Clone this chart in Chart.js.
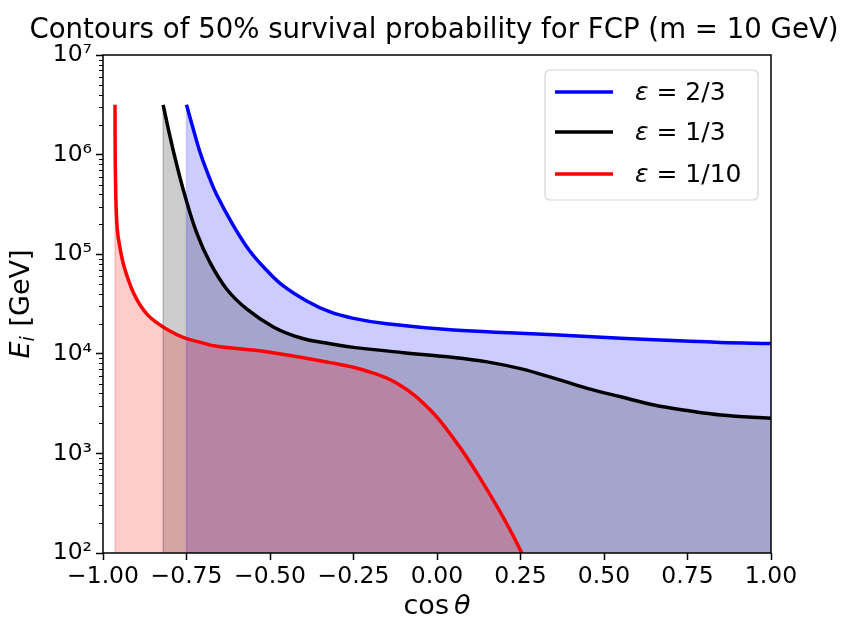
<!DOCTYPE html>
<html>
<head>
<meta charset="utf-8">
<script src="https://cdn.jsdelivr.net/npm/chart.js@4.4.0/dist/chart.umd.min.js"></script>
<style>
  html, body { margin: 0; padding: 0; background: #fff; }
</style>
</head>
<body>
<canvas id="chart" width="849" height="619"></canvas>
<script>
// curvas de 50% de sobrevivencia
const blueX = [-0.75, -0.73, -0.71, -0.685, -0.66, -0.61, -0.56, -0.51, -0.46, -0.39, -0.32, -0.25, -0.15, 0.05, 0.25, 0.45, 0.65, 0.85, 1.0];
const blueY = [3.16e6, 1.82e6, 1.07e6, 6.3e5, 3.98e5, 1.95e5, 1.07e5, 6.9e4, 4.8e4, 3.39e4, 2.63e4, 2.27e4, 2.0e4, 1.73e4, 1.61e4, 1.49e4, 1.38e4, 1.30e4, 1.27e4];

const blackX = [-0.82, -0.80, -0.78, -0.755, -0.72, -0.68, -0.63, -0.57, -0.49, -0.41, -0.32, -0.25, -0.10, 0.05, 0.15, 0.25, 0.35, 0.45, 0.55, 0.65, 0.75, 0.85, 1.0];
const blackY = [3.16e6, 1.55e6, 8.1e5, 3.9e5, 1.66e5, 8.3e4, 4.47e4, 2.82e4, 1.86e4, 1.45e4, 1.26e4, 1.16e4, 1.026e4, 9.2e3, 8.3e3, 7.1e3, 5.7e3, 4.5e3, 3.7e3, 3.06e3, 2.69e3, 2.43e3, 2.25e3];

const redX = [-0.964, -0.9635, -0.961, -0.957, -0.949, -0.939, -0.925, -0.91, -0.889, -0.865, -0.838, -0.805, -0.76, -0.71, -0.659, -0.51, -0.32, -0.22, -0.12, -0.02, 0.06, 0.12, 0.18, 0.224, 0.254];
const redY = [3.16e6, 1.0e6, 3.27e5, 1.75e5, 1.15e5, 7.98e4, 5.64e4, 4.17e4, 3.09e4, 2.43e4, 2.04e4, 1.73e4, 1.46e4, 1.31e4, 1.19e4, 1.05e4, 8.15e3, 6.87e3, 5.06e3, 2.73e3, 1.26e3, 631, 292, 158, 100];

const labels = ['ε = 2/3', 'ε = 1/3', 'ε = 1/10'];
const xTicks = [-1, -0.75, -0.5, -0.25, 0, 0.25, 0.5, 0.75, 1];
const yTicks = [1e2, 1e3, 1e4, 1e5, 1e6, 1e7];
const title = 'Contours of 50% survival probability for FCP (m = 10 GeV)';

const FONT = "'DejaVu Sans'";
const sup = '⁰¹²³⁴⁵⁶⁷⁸⁹';

function pts(xs, ys) {
  return xs.map((x, i) => ({ x: x, y: ys[i] }));
}

// borda esquerda das areas preenchidas (como no fill_between)
const edges = {
  id: 'edges',
  afterDatasetsDraw(chart) {
    const { ctx, chartArea: a, scales } = chart;
    ctx.save();
    chart.data.datasets.forEach((ds) => {
      const px = scales.x.getPixelForValue(ds.data[0].x);
      const py = scales.y.getPixelForValue(ds.data[0].y);
      ctx.strokeStyle = ds.backgroundColor;
      ctx.lineWidth = 1.5;
      ctx.beginPath();
      ctx.moveTo(px, py);
      ctx.lineTo(px, a.bottom);
      ctx.stroke();
    });
    ctx.restore();
  }
};

// eixos, titulo, legenda e titulos dos eixos desenhados à mao
const decor = {
  id: 'decor',
  afterDraw(chart) {
    const { ctx, chartArea: a, scales } = chart;
    const y = scales.y;
    ctx.save();

    // ticks menores do eixo log
    ctx.strokeStyle = '#000';
    ctx.lineWidth = 1;
    for (let e = 2; e < 7; e++) {
      for (let k = 2; k <= 9; k++) {
        const py = Math.round(y.getPixelForValue(k * Math.pow(10, e))) + 0.5;
        ctx.beginPath();
        ctx.moveTo(a.left - 4, py);
        ctx.lineTo(a.left, py);
        ctx.stroke();
      }
    }

    // moldura
    ctx.lineWidth = 1.5;
    ctx.strokeRect(a.left, a.top, a.right - a.left, a.bottom - a.top);

    // titulo
    ctx.fillStyle = '#000';
    ctx.textBaseline = 'alphabetic';
    ctx.textAlign = 'center';
    ctx.font = '27.6px ' + FONT;
    ctx.fillText(title, (a.left + a.right) / 2 - 3, 38);
    ctx.textAlign = 'left';

    // titulo do eixo x: cos θ
    const f1 = '27px ' + FONT;
    const f1i = 'italic 27px ' + FONT;
    ctx.font = f1;
    const wCos = ctx.measureText('cos').width;
    const gap = 5;
    ctx.font = f1i;
    const wTh = ctx.measureText('θ').width;
    let x0 = (a.left + a.right) / 2 - (wCos + gap + wTh) / 2;
    ctx.font = f1;
    ctx.fillText('cos', x0, 614);
    ctx.font = f1i;
    ctx.fillText('θ', x0 + wCos + gap, 614);

    // titulo do eixo y: E_i [GeV]
    ctx.save();
    ctx.translate(29, (a.top + a.bottom) / 2);
    ctx.rotate(-Math.PI / 2);
    ctx.font = f1i;
    const wE = ctx.measureText('E').width;
    ctx.font = 'italic 19px ' + FONT;
    const wI = ctx.measureText('i').width;
    ctx.font = f1;
    const wG = ctx.measureText(' [GeV]').width;
    x0 = -(wE + wI + 1 + wG) / 2;
    ctx.font = f1i;
    ctx.fillText('E', x0, 0);
    ctx.font = 'italic 19px ' + FONT;
    ctx.fillText('i', x0 + wE, 5);
    ctx.font = f1;
    ctx.fillText(' [GeV]', x0 + wE + wI + 1, 0);
    ctx.restore();

    // legenda
    const lx = 545, ly = 70, lw = 213, lh = 130;
    ctx.beginPath();
    ctx.roundRect(lx, ly, lw, lh, 5);
    ctx.fillStyle = 'rgba(255,255,255,0.8)';
    ctx.fill();
    ctx.strokeStyle = '#d4d4d4';
    ctx.lineWidth = 1.2;
    ctx.stroke();
    const rows = [92, 132, 174];
    chart.data.datasets.forEach((ds, i) => {
      ctx.strokeStyle = ds.borderColor;
      ctx.lineWidth = 3.5;
      ctx.beginPath();
      ctx.moveTo(555, rows[i]);
      ctx.lineTo(613, rows[i]);
      ctx.stroke();
      ctx.fillStyle = '#000';
      ctx.textBaseline = 'middle';
      ctx.font = 'italic 25px ' + FONT;
      const eps = ds.label.charAt(0);
      ctx.fillText(eps, 635, rows[i] + 1);
      const we = ctx.measureText(eps).width;
      ctx.font = '25px ' + FONT;
      ctx.fillText(ds.label.slice(1), 635 + we, rows[i] + 1);
    });

    ctx.restore();
  }
};

const ctx = document.getElementById('chart');

new Chart(ctx, {
  type: 'line',
  data: {
    datasets: [
      {
        label: labels[0],
        data: pts(blueX, blueY),
        borderColor: 'rgb(0,0,255)',
        backgroundColor: 'rgba(0,0,255,0.2)',
        fill: 'start',
        order: 3
      },
      {
        label: labels[1],
        data: pts(blackX, blackY),
        borderColor: 'rgb(0,0,0)',
        backgroundColor: 'rgba(0,0,0,0.2)',
        fill: 'start',
        order: 2
      },
      {
        label: labels[2],
        data: pts(redX, redY),
        borderColor: 'rgb(255,0,0)',
        backgroundColor: 'rgba(255,0,0,0.2)',
        fill: 'start',
        order: 1
      }
    ]
  },
  options: {
    responsive: false,
    animation: false,
    layout: { padding: { left: 0, right: 78, top: 55, bottom: 0 } },
    elements: {
      point: { radius: 0 },
      line: { borderWidth: 3.5, tension: 0.4 }
    },
    plugins: {
      legend: { display: false },
      tooltip: { enabled: false },
      title: { display: false }
    },
    scales: {
      x: {
        type: 'linear',
        min: -1,
        max: 1,
        afterBuildTicks: (scale) => { scale.ticks = xTicks.map(v => ({ value: v })); },
        afterFit: (scale) => { scale.height = 66; },
        border: { display: false },
        grid: { drawOnChartArea: false, drawTicks: true, tickLength: 7, tickColor: '#000', tickWidth: 1.5 },
        ticks: {
          color: '#000',
          padding: 3,
          maxRotation: 0,
          autoSkip: false,
          font: { family: FONT, size: 23.5 },
          callback: (v) => (v < 0 ? '\u2212' : '') + Math.abs(v).toFixed(2)
        }
      },
      y: {
        type: 'logarithmic',
        min: 1e2,
        max: 1e7,
        afterBuildTicks: (scale) => { scale.ticks = yTicks.map(v => ({ value: v })); },
        afterFit: (scale) => { scale.width = 103; },
        border: { display: false },
        grid: { drawOnChartArea: false, drawTicks: true, tickLength: 7, tickColor: '#000', tickWidth: 1.5 },
        ticks: {
          color: '#000',
          padding: 4,
          autoSkip: false,
          font: { family: FONT, size: 23.5 },
          callback: (v) => '10' + sup[Math.round(Math.log10(v))]
        }
      }
    }
  },
  plugins: [edges, decor]
});
</script>
</body>
</html>
